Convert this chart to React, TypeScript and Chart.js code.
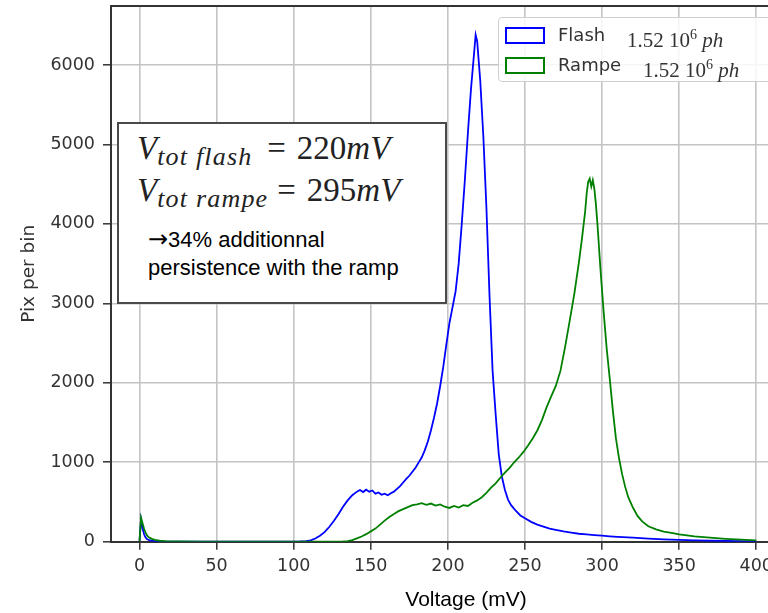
import React, { useEffect, useRef } from "react";
import Chart from "chart.js/auto";

// ---- Data ----
const flashMv = [
  0, 1, 2, 3, 4, 5, 7, 10, 15, 25, 40, 60, 80, 95, 104, 108, 111, 114, 117, 120,
  123, 126, 129, 132, 135, 138, 141, 143, 145, 147, 149, 151, 153, 155, 157, 159,
  161, 163, 165, 167, 169, 171, 173, 175, 177, 179, 181, 183, 185, 187, 189, 191,
  193, 195, 197, 199, 201, 203, 205, 207, 209, 211, 213, 215, 217, 218, 219, 220,
  221, 223, 225, 227, 229, 231, 233, 235, 237, 239, 241, 244, 247, 250, 254, 258,
  262, 266, 270, 275, 280, 285, 290, 295, 300, 305, 310, 320, 330, 340, 350, 360,
  370, 380, 390, 400,
];
const flashCounts = [
  10, 280, 170, 90, 50, 30, 15, 8, 4, 2, 1, 1, 2, 2, 4, 8, 18, 40, 75, 120,
  185, 260, 345, 440, 520, 585, 630, 650, 625, 655, 630, 645, 605, 620, 590, 605,
  585, 610, 630, 665, 700, 745, 790, 830, 880, 930, 995, 1060, 1150, 1260, 1400, 1560,
  1740, 1960, 2200, 2480, 2750, 2950, 3150, 3500, 4000, 4550, 5150, 5700, 6150, 6380, 6300, 6050,
  5800, 5100, 4200, 3100, 2150, 1600, 1100, 820, 650, 530, 460, 390, 330, 295, 250, 215,
  190, 165, 150, 130, 115, 100, 92, 84, 76, 68, 62, 52, 38, 28, 22, 16,
  12, 9, 6, 4,
];

const rampeMv = [
  0, 1, 2, 3, 4, 5, 6, 8, 10, 13, 17, 25, 40, 70, 100, 125, 132, 135, 138, 141,
  144, 147, 150, 153, 156, 159, 162, 165, 168, 171, 174, 177, 180, 183, 186, 189,
  192, 195, 198, 201, 204, 207, 210, 213, 216, 219, 222, 225, 228, 231, 234, 237,
  240, 243, 246, 249, 252, 255, 258, 261, 264, 267, 270, 273, 276, 279, 282, 285,
  287, 289, 290, 291, 292, 293, 294, 295, 296, 297, 299, 301, 303, 305, 307, 309,
  311, 313, 315, 317, 320, 323, 326, 330, 335, 340, 345, 350, 360, 370, 380, 390, 400,
];
const rampeCounts = [
  10, 300, 230, 160, 110, 75, 55, 35, 22, 12, 7, 4, 2, 1, 1, 1, 3, 8, 20, 42,
  65, 95, 130, 165, 215, 265, 310, 350, 385, 410, 435, 460, 470, 485, 465, 480,
  455, 470, 440, 425, 450, 430, 460, 450, 490, 520, 560, 615, 680, 735, 805, 870,
  930, 1000, 1060, 1130, 1210, 1300, 1400, 1530, 1690, 1830, 1960, 2150, 2450, 2780, 3120, 3520,
  3820, 4150, 4380, 4530, 4570, 4470, 4550, 4440, 4250, 4000, 3420, 2900, 2430, 2050, 1650, 1300,
  1050, 850, 690, 560, 430, 325, 255, 195, 155, 128, 110, 92, 66, 50, 36, 25, 16,
];

const seriesLabels = ["Flash", "Rampe"];
const xTicks = [0, 50, 100, 150, 200, 250, 300, 350, 400];
const yTicks = [0, 1000, 2000, 3000, 4000, 5000, 6000];

const toPoints = (xs: number[], ys: number[]) => xs.map((x, i) => ({ x, y: ys[i] }));

const framePlugin = {
  id: "frame",
  afterDraw(chart: any) {
    const { ctx, chartArea } = chart;
    ctx.save();
    ctx.strokeStyle = "#333";
    ctx.lineWidth = 2;
    ctx.beginPath();
    ctx.moveTo(chartArea.left, chartArea.top);
    ctx.lineTo(chartArea.right, chartArea.top);
    ctx.lineTo(chartArea.right, chartArea.bottom);
    ctx.stroke();
    ctx.restore();
  },
};

export default function App() {
  const ref = useRef<HTMLCanvasElement | null>(null);

  useEffect(() => {
    if (!ref.current) return;
    const tickFont = { family: "'DejaVu Sans', sans-serif", size: 17.5 };
    const chart = new Chart(ref.current, {
      type: "line",
      data: {
        datasets: [
          {
            label: seriesLabels[0],
            data: toPoints(flashMv, flashCounts),
            borderColor: "#0000ff",
            borderWidth: 1.8,
            pointRadius: 0,
            tension: 0,
            fill: false,
            order: 1,
          },
          {
            label: seriesLabels[1],
            data: toPoints(rampeMv, rampeCounts),
            borderColor: "#008000",
            borderWidth: 1.8,
            pointRadius: 0,
            tension: 0,
            fill: false,
            order: 0,
          },
        ],
      },
      options: {
        responsive: false,
        maintainAspectRatio: false,
        animation: false,
        layout: { padding: { left: 0, top: 6, right: 9, bottom: 0 } },
        plugins: { legend: { display: false }, tooltip: { enabled: false } },
        scales: {
          x: {
            type: "linear",
            min: -18.5,
            max: 442,
            afterBuildTicks: (s: any) => {
              s.ticks = xTicks.map((v) => ({ value: v }));
            },
            afterFit: (s: any) => {
              s.height = 71.3;
              s.paddingLeft = 0;
              s.paddingRight = 0;
            },
            grid: {
              color: "#c4c4c4",
              lineWidth: 1.6,
              drawTicks: true,
              tickLength: 8,
              tickColor: "#333",
              tickWidth: 1.5,
            },
            border: { color: "#333", width: 2 },
            ticks: {
              font: tickFont,
              color: "#333",
              padding: 6,
              maxRotation: 0,
              autoSkip: false,
              callback: (v: any) => String(v),
            },
            title: {
              display: true,
              text: "Voltage (mV)",
              font: { family: "'Liberation Sans', Arial, sans-serif", size: 21 },
              color: "#000",
              padding: { top: 0, bottom: 0 },
            },
          },
          y: {
            type: "linear",
            min: 0,
            max: 6743,
            afterBuildTicks: (s: any) => {
              s.ticks = yTicks.map((v) => ({ value: v }));
            },
            afterFit: (s: any) => {
              s.width = 111;
              s.paddingTop = 0;
              s.paddingBottom = 0;
            },
            grid: {
              color: "#c4c4c4",
              lineWidth: 1.6,
              drawTicks: true,
              tickLength: 8,
              tickColor: "#333",
              tickWidth: 1.5,
            },
            border: { color: "#333", width: 2 },
            ticks: {
              font: tickFont,
              color: "#333",
              padding: 8,
              autoSkip: false,
              callback: (v: any) => String(v),
            },
            title: {
              display: true,
              text: "Pix per bin",
              font: { family: "'DejaVu Sans', sans-serif", size: 18.5 },
              color: "#333",
              padding: { top: 18, bottom: 0 },
            },
          },
        },
      },
      plugins: [framePlugin],
    } as any);
    return () => chart.destroy();
  }, []);

  const serif = "'Liberation Serif', 'Times New Roman', serif";
  const sans = "'Liberation Sans', Arial, sans-serif";
  const dsans = "'DejaVu Sans', sans-serif";

  const patch = (color: string, top: number) => (
    <div
      style={{
        position: "absolute",
        left: 505,
        top,
        width: 36,
        height: 13,
        border: `2px solid ${color}`,
        background: "#fff",
      }}
    />
  );

  const legendRow = (label: string, top: number, mathLeft: number) => (
    <div
      style={{
        position: "absolute",
        left: 558,
        top,
        whiteSpace: "nowrap",
        lineHeight: "22px",
        color: "#333",
      }}
    >
      <span style={{ fontFamily: dsans, fontSize: 18 }}>{label}</span>
      <span
        style={{
          position: "absolute",
          left: mathLeft,
          top: 0,
          fontFamily: serif,
          fontSize: 21,
        }}
      >
        1.52 10<sup style={{ fontSize: 14, verticalAlign: 8 }}>6</sup>{" "}
        <i>ph</i>
      </span>
    </div>
  );

  const vLine = (sub: string, val: string, top: number, eqGap: number, subW: number) => (
    <div
      style={{
        position: "absolute",
        left: 137,
        top,
        whiteSpace: "nowrap",
        fontFamily: serif,
        fontSize: 33,
        lineHeight: "33px",
        color: "#222",
      }}
    >
      <i>V</i>
      <span
        style={{
          display: "inline-block",
          width: subW,
          fontStyle: "italic",
          fontSize: 26,
          letterSpacing: 1.2,
          verticalAlign: -6,
        }}
      >
        {sub}
      </span>
      <span style={{ marginLeft: eqGap }}>=</span>
      <span style={{ marginLeft: 11 }}>{val}</span>
      <i>mV</i>
    </div>
  );

  return (
    <div
      style={{
        position: "absolute",
        left: 0,
        top: 0,
        width: 768,
        height: 613,
        overflow: "hidden",
        background: "#fff",
      }}
    >
      <canvas ref={ref} width={830} height={613} style={{ display: "block" }} />

      {/* annotation box */}
      <div
        style={{
          position: "absolute",
          left: 117,
          top: 122,
          width: 326,
          height: 178,
          border: "2px solid #4a4a4a",
          background: "#fff",
        }}
      />
      {vLine("tot flash", "220", 132, 10, 100)}
      {vLine("tot rampe", "295", 174, 10, 110)}
      <div
        style={{
          position: "absolute",
          left: 148,
          top: 228,
          fontFamily: sans,
          fontSize: 22,
          lineHeight: "22px",
          color: "#000",
          whiteSpace: "nowrap",
        }}
      >
        <span style={{ fontFamily: dsans, fontSize: 24 }}>→</span>34% additionnal
      </div>
      <div
        style={{
          position: "absolute",
          left: 148,
          top: 257,
          fontFamily: sans,
          fontSize: 22,
          lineHeight: "22px",
          color: "#000",
          whiteSpace: "nowrap",
        }}
      >
        persistence with the ramp
      </div>

      {/* legend */}
      <div
        style={{
          position: "absolute",
          left: 498,
          top: 17,
          width: 320,
          height: 63,
          border: "1.5px solid #cfcfcf",
          borderRadius: 4,
          background: "rgba(255,255,255,0.85)",
        }}
      />
      {patch("#0000ff", 27)}
      {patch("#008000", 57)}
      {legendRow(seriesLabels[0], 24, 69)}
      {legendRow(seriesLabels[1], 54, 85)}
    </div>
  );
}
